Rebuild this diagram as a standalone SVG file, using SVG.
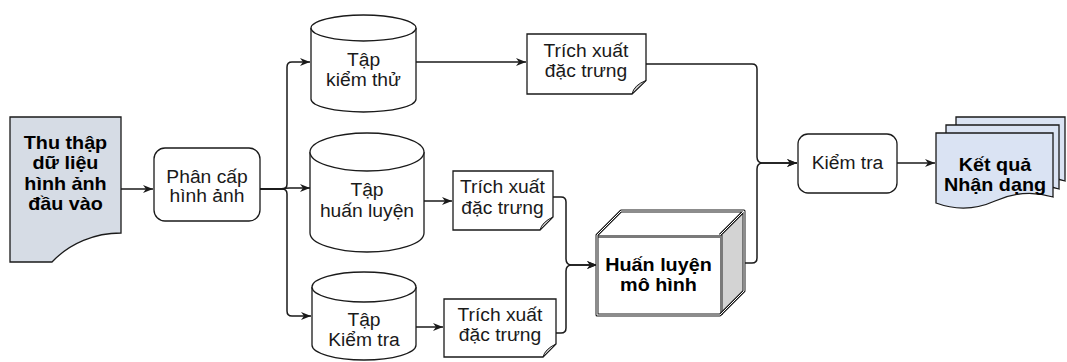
<svg xmlns="http://www.w3.org/2000/svg" width="1067" height="362" viewBox="0 0 1067 362">
<style>
.n{fill:#fff;stroke:#1a1a1a;stroke-width:1.3}
.t{font-family:"Liberation Sans",Arial,sans-serif;font-size:18px;fill:#1a1a1a;text-anchor:middle;transform-box:fill-box;transform-origin:center;transform:scaleX(1.07)}
.b{font-weight:bold;font-size:19px;fill:#000;transform:scaleX(1.04)}
.c{fill:none;stroke:#1a1a1a;stroke-width:1.5}
.curl{fill:#c8c8c8;stroke:#1a1a1a;stroke-width:1}
</style>
<defs>
<marker id="ar" viewBox="0 0 10 8" refX="10" refY="4" markerWidth="10" markerHeight="8" markerUnits="userSpaceOnUse" orient="auto">
<path d="M0,0 L10,4 L0,8 L3,4 Z" fill="#1a1a1a"/>
</marker>
</defs>
<g id="connectors">
<path class="c" d="M121,189 H153" marker-end="url(#ar)"/>
<path class="c" d="M260,189 H282 Q287,189 287,184 V67 Q287,62 292,62 H310" marker-end="url(#ar)"/>
<path class="c" d="M260,189 H280 Q285,188 290,188 H310" marker-end="url(#ar)"/>
<path class="c" d="M260,189 H282 Q287,189 287,194 V311 Q287,316 292,316 H311" marker-end="url(#ar)"/>
<path class="c" d="M416,62 H526" marker-end="url(#ar)"/>
<path class="c" d="M424,201 H452" marker-end="url(#ar)"/>
<path class="c" d="M416,327 H443" marker-end="url(#ar)"/>
<path class="c" d="M646,64 H752 Q757,64 757,69 V157 Q757,163 763,163 H797" marker-end="url(#ar)"/>
<path class="c" d="M745,263 H752 Q757,263 757,258 V169 Q757,163 763,163 H797" marker-end="url(#ar)"/>
<path class="c" d="M553,197 H561 Q566,197 566,202 V259 Q566,265 572,265 H597" marker-end="url(#ar)"/>
<path class="c" d="M556,333 H561 Q566,333 566,328 V271 Q566,265 572,265 H597" marker-end="url(#ar)"/>
<path class="c" d="M897,163 H935" marker-end="url(#ar)"/>
</g>
<g id="thu-thap">
<path d="M10,117 H121 V233 C95,233 70,243 52,262 H10 Z" fill="#d6dce5" stroke="#1a1a1a" stroke-width="1.3"/>
<text class="t b"><tspan x="65.5" y="149">Thu thập</tspan><tspan x="65.5" y="169.5">dữ liệu</tspan><tspan x="65.5" y="190">hình ảnh</tspan><tspan x="65.5" y="210.5">đầu vào</tspan></text>
</g>
<g id="phan-cap">
<rect class="n" x="154" y="148" width="106" height="73" rx="11"/>
<text class="t"><tspan x="207" y="183">Phân cấp</tspan><tspan x="207" y="202">hình ảnh</tspan></text>
</g>
<g id="tap-kiem-thu">
<path class="n" d="M311,28 A52.5,13 0 0 1 416,28 V99 A52.5,13 0 0 1 311,99 Z"/>
<path class="n" fill="none" d="M311,28 A52.5,13 0 0 0 416,28"/>
<text class="t"><tspan x="363.5" y="66.5">Tập</tspan><tspan x="363.5" y="86">kiểm thử</tspan></text>
</g>
<g id="tap-huan-luyen">
<path class="n" d="M310,152 A57,19 0 0 1 424,152 V233 A57,19 0 0 1 310,233 Z"/>
<path class="n" fill="none" d="M310,152 A57,19 0 0 0 424,152"/>
<text class="t"><tspan x="367" y="196.5">Tập</tspan><tspan x="367" y="217">huấn luyện</tspan></text>
</g>
<g id="tap-kiem-tra">
<path class="n" d="M312,287 A52,15 0 0 1 416,287 V345 A52,15 0 0 1 312,345 Z"/>
<path class="n" fill="none" d="M312,287 A52,15 0 0 0 416,287"/>
<text class="t"><tspan x="364" y="326">Tập</tspan><tspan x="364" y="346">Kiểm tra</tspan></text>
</g>
<g id="trich-xuat-1">
<path class="n" d="M527,34 H646 V80.5 L632,94 H527 Z"/>
<path class="curl" d="M632,94 Q634,85 646,80.5 Z"/>
<text class="t"><tspan x="586" y="57.5">Trích xuất</tspan><tspan x="586" y="77">đặc trưng</tspan></text>
</g>
<g id="trich-xuat-2">
<path class="n" d="M453,171 H553 V217 L540,230 H453 Z"/>
<path class="curl" d="M540,230 Q542,222 553,217 Z"/>
<text class="t"><tspan x="502.5" y="193.5">Trích xuất</tspan><tspan x="502.5" y="214">đặc trưng</tspan></text>
</g>
<g id="trich-xuat-3">
<path class="n" d="M444,299 H556 V344 L543,357 H444 Z"/>
<path class="curl" d="M543,357 Q545,349 556,344 Z"/>
<text class="t"><tspan x="500" y="321.5">Trích xuất</tspan><tspan x="500" y="341.5">đặc trưng</tspan></text>
</g>
<g id="huan-luyen">
<polygon points="720,235 744,211 744,291 720,315" fill="#d3d3d3"/>
<polygon points="597,235 621,211 744,211 720,235" fill="#fff"/>
<rect x="597" y="235" width="123" height="80" fill="#fff"/>
<path d="M597,236.5 H720 M721.5,235 V315" stroke="#7a7a7a" stroke-width="3" fill="none"/>
<path d="M597,235 L621,211 H744 V291 L720,315 H597 Z M720,235 L744,211" fill="none" stroke="#1a1a1a" stroke-width="3" stroke-linejoin="round"/>
<path d="M597,235 L621,211 H744 V291 L720,315 H597 Z M720,235 L744,211" fill="none" stroke="#fff" stroke-width="1" stroke-linejoin="round"/>
<text class="t b"><tspan x="658.5" y="271.5">Huấn luyện</tspan><tspan x="658.5" y="291">mô hình</tspan></text>
</g>
<g id="kiem-tra">
<rect class="n" x="798" y="134" width="99" height="59" rx="10"/>
<text class="t" x="847.5" y="169.5">Kiểm tra</text>
</g>
<g id="ket-qua">
<path d="M956,117 H1065 V181 Q1038,172 1010,185 Q983,198 956,187 Z" fill="#dae3f3" stroke="#1a1a1a" stroke-width="1.3"/>
<path d="M946,125 H1059 V189 Q1031,180 1002,193 Q974,206 946,195 Z" fill="#dae3f3" stroke="#1a1a1a" stroke-width="1.3"/>
<path d="M936,133 H1053 V197 Q1024,188 995,201 Q966,214 936,203 Z" fill="#dae3f3" stroke="#1a1a1a" stroke-width="1.3"/>
<text class="t b"><tspan x="995" y="171.5">Kết quả</tspan><tspan x="995" y="191.5">Nhận dạng</tspan></text>
</g>
</svg>
